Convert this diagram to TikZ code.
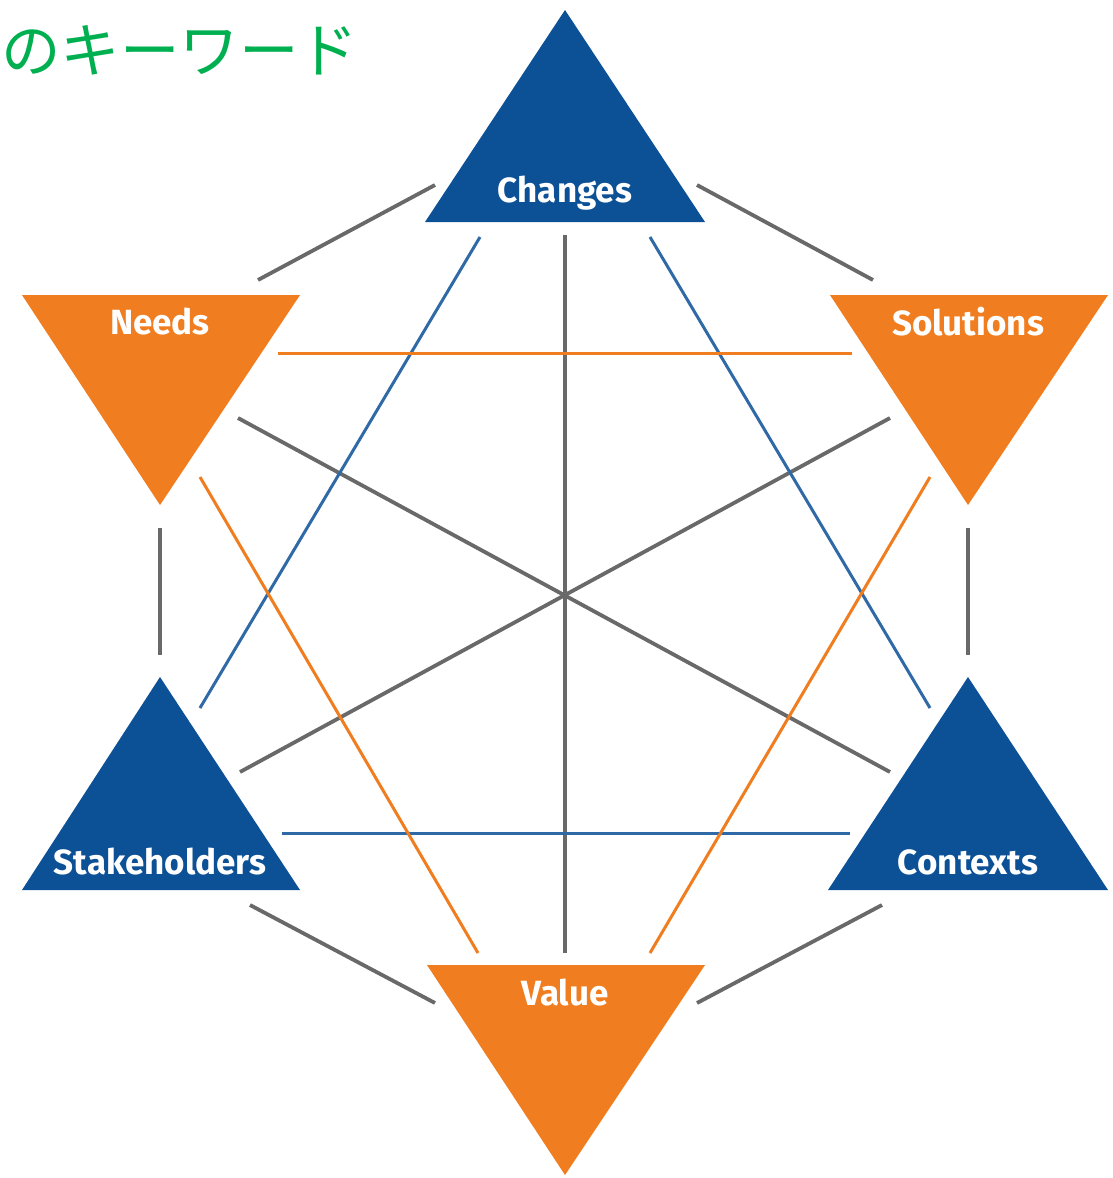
\documentclass[tikz,border=0pt]{standalone}
\usepackage{fontspec}
\setmainfont{Fira Sans}
\newfontfamily\cjk{Noto Sans CJK JP}
\definecolor{kblue}{RGB}{12,80,150}
\definecolor{korange}{RGB}{240,126,32}
\definecolor{kgray}{RGB}{105,105,105}
\definecolor{kgreen}{RGB}{0,176,80}
\begin{document}
\begin{tikzpicture}[x=1pt,y=-1pt,
  lab/.style={text=white,font=\fontsize{35}{35}\selectfont\bfseries,inner sep=0pt},
  gline/.style={draw=kgray,line width=3.8pt},
  bline/.style={draw=kblue!85!white,line width=3pt},
  oline/.style={draw=korange,line width=3pt}]
\useasboundingbox (0,0) rectangle (1113,1178);
% title
\node[anchor=west,inner sep=0pt,text=kgreen,font=\cjk\fontsize{59.5}{60}\selectfont] (title) at (1,50) {のキーワード};
% triangles
\fill[kblue] (565,10) -- (705,222) -- (425,222) -- cycle;
\fill[korange] (22,295) -- (300,295) -- (160,505) -- cycle;
\fill[korange] (830,295) -- (1108,295) -- (968,505) -- cycle;
\fill[kblue] (160,677) -- (300,890) -- (22,890) -- cycle;
\fill[kblue] (968,677) -- (1108,890) -- (828,890) -- cycle;
\fill[korange] (427,965) -- (705,965) -- (565,1175) -- cycle;
% labels
\node[lab] (changes) at (565,193) {Changes};
\node[lab] (needs) at (160,322) {Needs};
\node[lab] (solutions) at (968,322) {Solutions};
\node[lab] (stake) at (160,862) {Stakeholders};
\node[lab] (contexts) at (968,862) {Contexts};
\node[lab] (value) at (565,993) {Value};
% endpoints
\coordinate (c1) at (435,185);  \coordinate (n1) at (258,280);
\coordinate (c2) at (697,185);  \coordinate (s1) at (873,280);
\coordinate (n2) at (160,528);  \coordinate (k1) at (160,655);
\coordinate (s2) at (968,528);  \coordinate (x1) at (968,655);
\coordinate (k2) at (250,905);  \coordinate (v1) at (435,1003);
\coordinate (v2) at (697,1003); \coordinate (x2) at (882,905);
\coordinate (c3) at (565,235);  \coordinate (v3) at (565,953);
\coordinate (n3) at (238,418);  \coordinate (x3) at (890,772);
\coordinate (k3) at (240,772);  \coordinate (s3) at (890,418);
\coordinate (c4) at (480,237);  \coordinate (k4) at (200,708);
\coordinate (c5) at (650,237);  \coordinate (x4) at (930,708);
\coordinate (k5) at (282,833);  \coordinate (x5) at (850,833);
\coordinate (n4) at (278,353);  \coordinate (s4) at (852,353);
\coordinate (n5) at (200,477);  \coordinate (v4) at (478,953);
\coordinate (s5) at (930,477);  \coordinate (v5) at (650,953);
% connectors
\draw[gline] (c1) -- (n1);
\draw[gline] (c2) -- (s1);
\draw[gline] (n2) -- (k1);
\draw[gline] (s2) -- (x1);
\draw[gline] (k2) -- (v1);
\draw[gline] (v2) -- (x2);
\draw[gline] (c3) -- (v3);
\draw[gline] (n3) -- (x3);
\draw[gline] (k3) -- (s3);
\draw[bline] (c4) -- (k4);
\draw[bline] (c5) -- (x4);
\draw[bline] (k5) -- (x5);
\draw[oline] (n4) -- (s4);
\draw[oline] (n5) -- (v4);
\draw[oline] (s5) -- (v5);
\end{tikzpicture}
\end{document}
